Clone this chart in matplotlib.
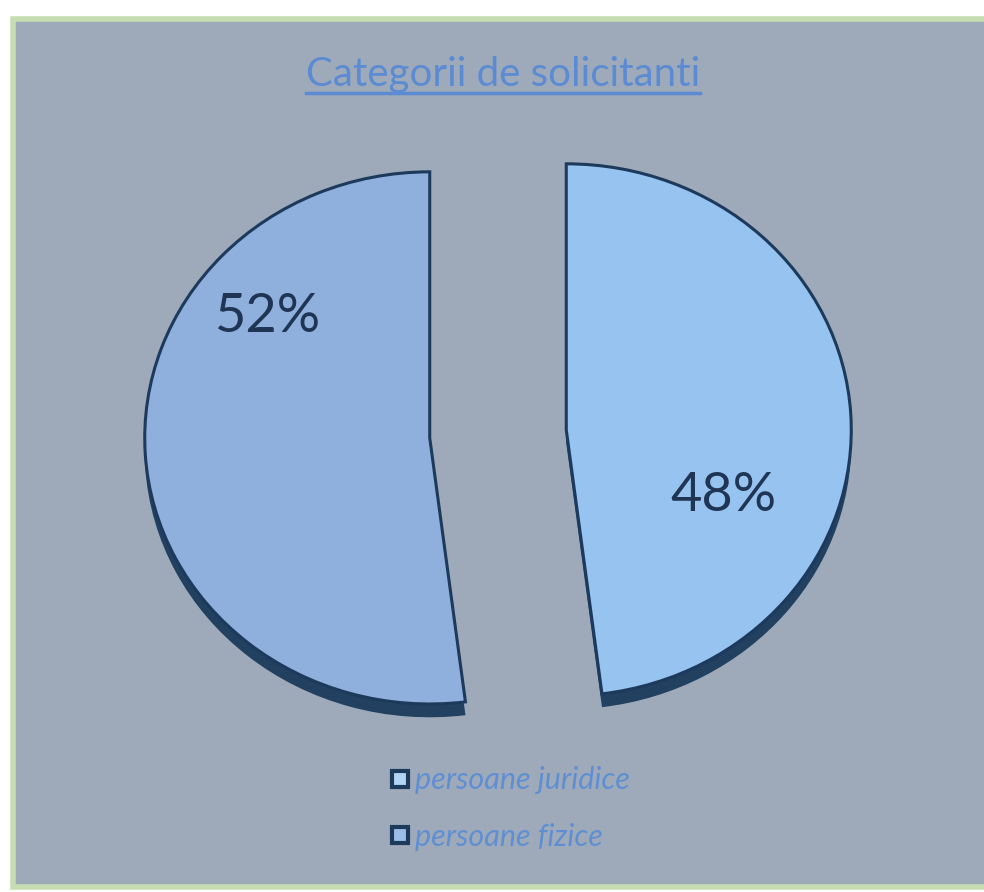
import matplotlib.pyplot as plt
from matplotlib.patches import Rectangle
from matplotlib.lines import Line2D

# data
categories = ['persoane juridice', 'persoane fizice']
shares = [52, 48]
slice_colors = ['#8fb0dd', '#96c3f0']
title = 'Categorii de solicitanti'

W, H = 984, 892
fig = plt.figure(figsize=(W / 100, H / 100), dpi=100)
fig.patch.set_facecolor('white')

# grey-blue panel with light green border
fig.patches.append(Rectangle((13 / W, 5 / H), (W - 10) / W, (H - 24) / H,
                             transform=fig.transFigure, facecolor='#9eaaba',
                             edgecolor='#c6ddb2', linewidth=4, zorder=-1))

ax = fig.add_axes([42 / W, 85.6 / H, 912 / W, 745 / H])
ax.set_zorder(1)
explode = [0.24, 0.24]

# dark "3d" depth under the slices
ax.pie(shares, explode=explode, startangle=90, colors=['#22405f'] * 2,
       center=(0, -0.05), wedgeprops=dict(linewidth=0))

wedges, texts, autotexts = ax.pie(
    shares, explode=explode, startangle=90, colors=slice_colors,
    autopct='%.0f%%',
    wedgeprops=dict(edgecolor='#1d3a5c', linewidth=2.2),
    textprops=dict(fontsize=39, color='#1f3553', family='Lato'))

autotexts[0].set_position((-0.81, 0.44))
autotexts[1].set_position((0.79, -0.23))

ax.set_aspect('auto')
ax.set_xlim(-1.6, 1.6)
ax.set_ylim(-1.4, 1.4)
ax.axis('off')

# title with underline
t = fig.text(503 / W, 1 - 86 / H, title, ha='center', va='baseline',
             fontsize=29, color='#5b8bd3', family='Lato', zorder=2)
fig.canvas.draw()
bb = t.get_window_extent(fig.canvas.get_renderer())
fig.add_artist(Line2D([bb.x0 / W, bb.x1 / W], [1 - 93 / H, 1 - 93 / H],
                      transform=fig.transFigure, color='#5b8bd3', linewidth=2.5))

# legend
handles = [Line2D([], [], linestyle='none', marker='s', markersize=11,
                  markerfacecolor=c, markeredgecolor='#1d3a5c', markeredgewidth=3)
           for c in ['#b4d3f5', '#9cbde6']]
fig.legend(handles, categories, loc='upper left',
           bbox_to_anchor=(362 / W, 1 - 739 / H), frameon=False,
           handlelength=0.7, handletextpad=0.15, labelspacing=0.92,
           prop=dict(family='Lato', style='italic', size=22), labelcolor='#5f8fd3')

fig.savefig('out.png', dpi=100)
